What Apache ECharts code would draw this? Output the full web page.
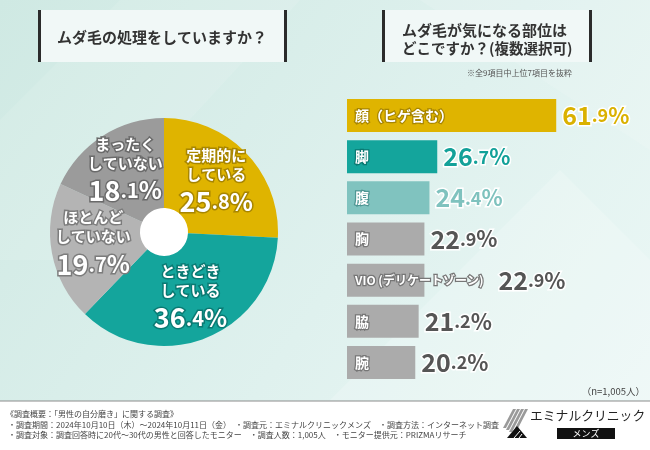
<!DOCTYPE html>
<html><head><meta charset="utf-8">
<script src="https://cdn.jsdelivr.net/npm/echarts@6/dist/echarts.min.js"></script>
<style>html,body{margin:0;padding:0;background:#fff;} #c{width:650px;height:450px;}</style>
</head><body><div id="c"></div>
<script>
const pieCategories = ['定期的に\nしている', 'ときどき\nしている', 'ほとんど\nしていない', 'まったく\nしていない'];
const pieValues = [25.8, 36.4, 19.7, 18.1];
const barCategories = ['顔（ヒゲ含む）', '脚', '腹', '胸', 'VIO (デリケートゾーン)', '脇', '腕'];
const barValues = [61.9, 26.7, 24.4, 22.9, 22.9, 21.2, 20.2];

const FONT = '"Noto Sans CJK JP", "Noto Sans", sans-serif';
const pieColors = ['#dfb400', '#14a59c', '#b4b4b4', '#9b9b9b'];
const pieStroke = ['#a88600', '#0a7a73', '#7c7c7c', '#6a6a6a'];
const barColors = ['#dfb400', '#14a59c', '#80c3bf', '#ababab', '#ababab', '#ababab', '#ababab'];
const barStroke = ['#a88600', '#0a7a73', '#4e9693', '#777777', '#777777', '#777777', '#777777'];
const valColors = ['#dab100', '#13a199', '#7fc2be', '#555555', '#555555', '#555555', '#555555'];

function splitVal(v) { return v.toFixed(1).split('.'); }

const chart = echarts.init(document.getElementById('c'));

const pieData = pieValues.map((v, i) => {
  const [a, b] = splitVal(v);
  const sc = pieStroke[i];
  const lines = pieCategories[i].split('\n').map(t => '{t|' + t + '}').join('\n');
  const base = { fontWeight: 'bold', color: '#fff', textBorderColor: sc, textBorderWidth: 3, fontFamily: FONT };
  return {
    name: pieCategories[i], value: v,
    itemStyle: { color: pieColors[i] },
    label: {
      formatter: lines + '\n{i|' + a + '}{d|.' + b + '}{p|%}',
      rich: {
        t: Object.assign({ fontSize: 15, lineHeight: 19 }, base),
        i: Object.assign({ fontSize: 27, lineHeight: 36 }, base),
        d: Object.assign({ fontSize: 20, lineHeight: 36 }, base),
        p: Object.assign({ fontSize: 24, lineHeight: 36 }, base)
      }
    }
  };
});

const barDataA = barValues.map((v, i) => ({
  value: v,
  itemStyle: { color: barColors[i] },
  label: { textBorderColor: barStroke[i], fontSize: i === 4 ? 12 : 14 }
}));
const barDataB = barValues.map((v, i) => {
  const [a, b] = splitVal(v);
  const c = valColors[i];
  const st = { color: c, fontWeight: 'bold', textBorderColor: '#fff', textBorderWidth: 3, fontFamily: FONT };
  return {
    value: v,
    label: {
      offset: i === 4 ? [68, 0] : [0, 0],
      formatter: '{i|' + a + '}{d|.' + b + '}{p|%}',
      rich: {
        i: Object.assign({ fontSize: 25 }, st),
        d: Object.assign({ fontSize: 18 }, st),
        p: Object.assign({ fontSize: 22 }, st)
      }
    }
  };
});

const footer1 = '《調査概要：「男性の自分磨き」に関する調査》';
const footer2 = '・調査期間：2024年10月10日（木）～2024年10月11日（金）　・調査元：エミナルクリニックメンズ　・調査方法：インターネット調査';
const footer3 = '・調査対象：調査回答時に20代～30代の男性と回答したモニター　・調査人数：1,005人　・モニター提供元：PRIZMAリサーチ';

chart.setOption({
  animation: false,
  textStyle: { fontFamily: FONT },
  graphic: [
    { type: 'rect', z: -10, shape: { x: 0, y: 0, width: 650, height: 450 },
      style: { fill: new echarts.graphic.LinearGradient(0, 0, 1, 1, [{ offset: 0, color: '#cfe9e3' }, { offset: 0.55, color: '#dff1ee' }, { offset: 1, color: '#ecf8f6' }]) } },
    { type: 'polygon', z: -9, shape: { points: [[0, 120], [120, 0], [300, 0], [60, 260], [0, 260]] }, style: { fill: 'rgba(255,255,255,0.10)' } },
    { type: 'polygon', z: -9, shape: { points: [[330, 400], [560, 170], [650, 260], [650, 400]] }, style: { fill: 'rgba(255,255,255,0.20)' } },
    { type: 'polygon', z: -9, shape: { points: [[420, 0], [650, 0], [650, 150]] }, style: { fill: 'rgba(255,255,255,0.12)' } },
    { type: 'rect', shape: { x: 39, y: 10, width: 248, height: 52 }, style: { fill: '#f1f8f7' } },
    { type: 'rect', shape: { x: 38, y: 10, width: 3, height: 52 }, style: { fill: '#2b2b2b' } },
    { type: 'rect', shape: { x: 284, y: 10, width: 3, height: 52 }, style: { fill: '#2b2b2b' } },
    { type: 'text', style: { x: 162, y: 37, text: 'ムダ毛の処理をしていますか？', fill: '#333', font: 'bold 15px ' + FONT, textAlign: 'center', textVerticalAlign: 'middle' } },
    { type: 'rect', shape: { x: 383, y: 10, width: 209, height: 52 }, style: { fill: '#f1f8f7' } },
    { type: 'rect', shape: { x: 382, y: 10, width: 3, height: 52 }, style: { fill: '#2b2b2b' } },
    { type: 'rect', shape: { x: 589, y: 10, width: 3, height: 52 }, style: { fill: '#2b2b2b' } },
    { type: 'text', style: { x: 402, y: 30, text: 'ムダ毛が気になる部位は', fill: '#333', font: 'bold 15px ' + FONT, textAlign: 'left', textVerticalAlign: 'middle' } },
    { type: 'text', style: { x: 402, y: 48, text: 'どこですか？(複数選択可)', fill: '#333', font: 'bold 14.5px ' + FONT, textAlign: 'left', textVerticalAlign: 'middle' } },
    { type: 'text', style: { x: 572, y: 73, text: '※全9項目中上位7項目を抜粋', fill: '#555', font: '8px ' + FONT, textAlign: 'right', textVerticalAlign: 'middle' } },
    { type: 'text', style: { x: 645, y: 391, text: '（n=1,005人）', fill: '#444', font: '9.5px ' + FONT, textAlign: 'right', textVerticalAlign: 'middle' } },
    { type: 'circle', shape: { cx: 164, cy: 232, r: 25 }, style: { fill: '#ffffff' } },
    { type: 'rect', shape: { x: 0, y: 401, width: 650, height: 49 }, style: { fill: '#ffffff' } },
    { type: 'line', shape: { x1: 0, y1: 401, x2: 650, y2: 401 }, style: { stroke: '#8c8c8c', lineWidth: 1 } },
    { type: 'text', style: { x: 6, y: 414, text: footer1, fill: '#444', font: '8px ' + FONT, textVerticalAlign: 'middle' } },
    { type: 'text', style: { x: 8, y: 425, text: footer2, fill: '#444', font: '8px ' + FONT, textVerticalAlign: 'middle' } },
    { type: 'text', style: { x: 8, y: 435, text: footer3, fill: '#444', font: '8px ' + FONT, textVerticalAlign: 'middle' } },
    { type: 'polygon', shape: { points: [[513, 409], [516, 409], [506, 428], [503, 428]] }, style: { fill: '#9a9a9a' } },
    { type: 'polygon', shape: { points: [[517, 409], [520, 409], [509, 430], [506, 430]] }, style: { fill: '#9a9a9a' } },
    { type: 'polygon', shape: { points: [[521, 409], [524, 409], [512, 432], [509, 432]] }, style: { fill: '#9a9a9a' } },
    { type: 'polygon', shape: { points: [[525, 409], [528, 409], [515, 434], [512, 434]] }, style: { fill: '#9a9a9a' } },
    { type: 'polygon', shape: { points: [[517, 426], [527, 438], [507, 438]] }, style: { fill: '#111' } },
    { type: 'line', shape: { x1: 514, y1: 438, x2: 520, y2: 431 }, style: { stroke: '#fff', lineWidth: 1 } },
    { type: 'line', shape: { x1: 519, y1: 438, x2: 522, y2: 434 }, style: { stroke: '#fff', lineWidth: 1 } },
    { type: 'text', style: { x: 530, y: 415, text: 'エミナルクリニック', fill: '#222', font: '12.8px ' + FONT, textVerticalAlign: 'middle' } },
    { type: 'rect', shape: { x: 557, y: 428, width: 58, height: 11 }, style: { fill: '#111' } },
    { type: 'text', style: { x: 586, y: 433.5, text: 'メンズ', fill: '#fff', font: '9px ' + FONT, textAlign: 'center', textVerticalAlign: 'middle' } }
  ],
  grid: { left: 347, top: 95, width: 270.4, height: 288 },
  xAxis: { type: 'value', min: 0, max: 80, show: false },
  yAxis: { type: 'category', data: barCategories, inverse: true, show: false },
  series: [
    {
      type: 'pie', center: [164, 232], radius: [24, 114], startAngle: 90, clockwise: true,
      silent: true, label: { show: true, position: 'inside', align: 'center' }, labelLine: { show: false },
      data: pieData
    },
    {
      type: 'bar', barWidth: 33, silent: true, data: barDataA, z: 2,
      label: { show: true, position: 'insideLeft', distance: 8, formatter: p => p.name, color: '#fff', fontSize: 14, fontWeight: 'bold', textBorderWidth: 2.5, fontFamily: FONT }
    },
    {
      type: 'bar', barWidth: 33, barGap: '-100%', silent: true, data: barDataB, z: 3,
      itemStyle: { color: 'rgba(0,0,0,0)' },
      label: { show: true, position: 'right', distance: 6 }
    }
  ]
});
</script></body></html>
